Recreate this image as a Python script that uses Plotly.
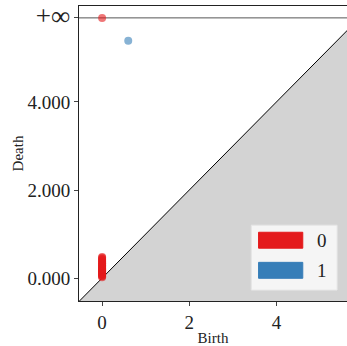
import plotly.graph_objects as go

# Data
dim0_birth = [0.0] * 30
dim0_death = [0.02, 0.04, 0.05, 0.07, 0.08, 0.10, 0.11, 0.12, 0.14, 0.15,
              0.16, 0.18, 0.19, 0.20, 0.22, 0.23, 0.25, 0.26, 0.28, 0.29,
              0.31, 0.33, 0.34, 0.36, 0.38, 0.40, 0.42, 0.44, 0.46, 0.48]
dim0_inf_birth = [0.0]
dim1_birth = [0.6]
dim1_death = [5.39]
INF_VALUE = 5.91
y_tickvals = [0, 2, 4, INF_VALUE]
y_ticktext = ["0.000", "2.000", "4.000", "<span style='font-size:27px'>+∞</span>"]
x_tickvals = [0, 2, 4]
legend_labels = ["0", "1"]
colors = ["#e41a1c", "#377eb8"]

xr = [-0.53, 5.62]
yr = [-0.52, 6.18]

FONT = "Liberation Serif"

fig = go.Figure()

# shaded region below diagonal
lo = min(xr[0], yr[0])
fig.add_trace(go.Scatter(
    x=[lo, xr[1], xr[1], lo], y=[lo, xr[1], yr[0] - 1, yr[0] - 1],
    fill="toself", fillcolor="#d3d3d3", mode="lines",
    line=dict(color="rgba(0,0,0,0)", width=0), hoverinfo="skip", showlegend=False))
# diagonal
fig.add_trace(go.Scatter(x=[lo, xr[1] + 1], y=[lo, xr[1] + 1], mode="lines",
                         line=dict(color="black", width=1), showlegend=False))
# infinity line
fig.add_trace(go.Scatter(x=[xr[0] - 1, xr[1] + 1], y=[INF_VALUE, INF_VALUE], mode="lines",
                         line=dict(color="#555555", width=1), showlegend=False))

fig.add_trace(go.Scatter(x=dim0_birth, y=dim0_death, mode="markers",
                         marker=dict(color=colors[0], size=8, opacity=0.6, line=dict(width=0)),
                         showlegend=False))
fig.add_trace(go.Scatter(x=dim0_inf_birth, y=[INF_VALUE] * len(dim0_inf_birth), mode="markers",
                         marker=dict(color=colors[0], size=8, opacity=0.6, line=dict(width=0)),
                         showlegend=False))
fig.add_trace(go.Scatter(x=dim1_birth, y=dim1_death, mode="markers",
                         marker=dict(color=colors[1], size=8, opacity=0.6, line=dict(width=0)),
                         showlegend=False))

# manual legend
shapes = [dict(type="rect", xref="paper", yref="paper", x0=0.643, x1=0.963, y0=0.037, y1=0.257,
               fillcolor="rgba(248,248,248,0.9)", line=dict(color="#e6e6e6", width=1), layer="above")]
annotations = []
for i, (lab, c) in enumerate(zip(legend_labels, colors)):
    ytop = 0.233 - i * 0.102
    shapes.append(dict(type="rect", xref="paper", yref="paper", x0=0.67, x1=0.835,
                       y0=ytop - 0.054, y1=ytop, fillcolor=c,
                       line=dict(color=c, width=1), layer="above"))
    annotations.append(dict(text=lab, xref="paper", yref="paper", x=0.907, y=ytop - 0.027,
                            showarrow=False, font=dict(family=FONT, size=19, color="#222"),
                            xanchor="center", yanchor="middle"))

fig.update_layout(
    width=347, height=346,
    margin=dict(l=79, r=0, t=6, b=45, autoexpand=False),
    paper_bgcolor="white", plot_bgcolor="white",
    shapes=shapes, annotations=annotations,
    font=dict(family=FONT, color="#222"),
    xaxis=dict(range=xr, tickvals=x_tickvals, ticks="outside", ticklen=4,
               tickfont=dict(size=19), showgrid=False, zeroline=False, automargin=False,
               showline=True, linecolor="#222", linewidth=1, mirror=True,
               title=dict(text="Birth", font=dict(size=15), standoff=0)),
    yaxis=dict(range=yr, tickvals=y_tickvals, ticktext=y_ticktext, ticks="outside", ticklen=4,
               tickfont=dict(size=19), showgrid=False, zeroline=False, automargin=False,
               showline=True, linecolor="#222", linewidth=1, mirror=True,
               title=dict(text="Death", font=dict(size=15), standoff=0)),
)

fig.write_html("out.html", config={"displayModeBar": False},
               post_script="document.body.style.margin='0';document.body.style.overflow='hidden';")
